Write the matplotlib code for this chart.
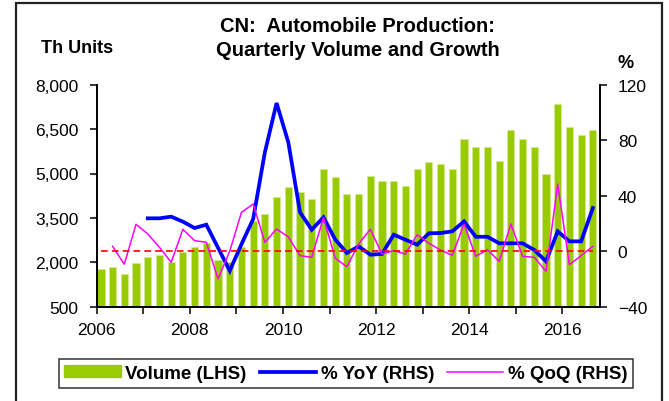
import matplotlib
matplotlib.use("Agg")
import matplotlib.pyplot as plt
from matplotlib.patches import Rectangle, Patch
from matplotlib.lines import Line2D

plt.rcParams['font.family'] = ['Liberation Sans', 'DejaVu Sans']

# === Data (2006Q1 .. 2016Q3) ===
volume = [1790, 1847, 1621, 1960, 2187, 2243, 2017, 2356, 2526, 2640, 2074,
          2017, 2526, 3398, 3624, 4190, 4530, 4360, 4134, 5153, 4870, 4304,
          4304, 4926, 4756, 4756, 4587, 5153, 5379, 5322, 5153, 6171, 5888,
          5888, 5436, 6454, 6171, 5888, 4983, 7360, 6568, 6285, 6454]
yoy = [None, None, None, None, 23.7, 23.7, 24.9, 21.3, 16.7, 19.1, 2.5,
       -14.1, 5.0, 23.2, 71.3, 106.8, 78.5, 28.0, 15.5, 24.4, 8.5, -1.3,
       3.5, -2.5, -2.0, 11.9, 8.3, 4.7, 12.9, 13.1, 14.3, 21.5, 10.4,
       10.4, 5.7, 5.7, 5.7, 0.9, -7.3, 14.3, 7.1, 7.1, 31.1]
qoq = [None, 3.5, -9.4, 19.4, 12.4, 2.8, -8.0, 15.8, 7.6, 6.4, -20.0,
       0.0, 28.0, 34.0, 6.4, 16.0, 10.3, -3.2, -4.4, 24.2, -5.0, -11.2,
       5.2, 15.8, -2.0, 0.4, -2.0, 11.9, 5.7, 0.9, -3.0, 19.6, -3.7,
       1.1, -7.3, 19.6, -3.7, -4.4, -14.5, 48.4, -9.7, -3.2, 3.5]
zero = [0] * len(volume)

years = range(2006, 2017)
year_labels = [str(y) if y % 2 == 0 else '' for y in years]
lhs_ticks = [500, 2000, 3500, 5000, 6500, 8000]
rhs_ticks = [-40, 0, 40, 80, 120]

# quarter positions on a year scale
x = [2006.09 + 0.2515 * i for i in range(len(volume))]
yoy_x = [xi for xi, v in zip(x, yoy) if v is not None]
yoy_v = [v for v in yoy if v is not None]
qoq_x = [xi for xi, v in zip(x, qoq) if v is not None]
qoq_v = [v for v in qoq if v is not None]

GREEN = '#99cc00'
BLUE = '#0000ff'
MAGENTA = '#ff00ff'

fig = plt.figure(figsize=(6.69, 4.02), dpi=100)
ax = fig.add_axes([96.7 / 669, 1 - 307.7 / 402, 503 / 669, 222 / 402])
ax2 = ax.twinx()

ax.bar(x, volume, width=0.155, bottom=0, color=GREEN, edgecolor='#d4e98f',
       linewidth=0.6)
ax.set_ylim(500, 8000)
ax.set_yticks(lhs_ticks)
ax.set_yticklabels(['{:,}'.format(v) for v in lhs_ticks])
ax.set_xlim(2006.0, 2016.8)
ax.set_xticks(list(years))
ax.set_xticklabels(year_labels)

ax2.plot(yoy_x, yoy_v, color=BLUE, lw=2.7, solid_joinstyle='miter')
ax2.plot(qoq_x, qoq_v, color=MAGENTA, lw=1.1)
ax2.plot(x, zero, color='red', lw=1.2, dashes=(4, 2.5))
ax2.set_ylim(-40, 120)
ax2.set_yticks(rhs_ticks)

for a in (ax, ax2):
    a.spines['top'].set_visible(False)
    for s in a.spines.values():
        s.set_linewidth(1.2)
    a.tick_params(direction='out', length=5, width=1.1, labelsize=12.5, pad=8)
ax.tick_params(axis='x', pad=6)

# === Texts ===
fig.text(357 / 669, 1 - 27 / 402, 'CN:  Automobile Production:', ha='center',
         va='center', fontsize=14.5, fontweight='bold')
fig.text(358 / 669, 1 - 50 / 402, 'Quarterly Volume and Growth', ha='center',
         va='center', fontsize=14.5, fontweight='bold')
fig.text(77 / 669, 1 - 49 / 402, 'Th Units', ha='center', va='center',
         fontsize=13, fontweight='bold')
fig.text(626 / 669, 1 - 63 / 402, '%', ha='center', va='center',
         fontsize=13, fontweight='bold')

handles = [Patch(facecolor=GREEN, edgecolor=GREEN),
           Line2D([], [], color=BLUE, lw=2.7),
           Line2D([], [], color=MAGENTA, lw=1.1)]
labels = ['Volume (LHS)', '% YoY (RHS)', '% QoQ (RHS)']
leg = fig.legend(handles, labels, loc='center', ncol=3,
                 bbox_to_anchor=(346 / 669, 1 - 374.5 / 402),
                 prop={'weight': 'bold', 'size': 13.5}, frameon=True,
                 fancybox=False, handlelength=3.0, handleheight=0.6,
                 handletextpad=0.25, columnspacing=0.7, borderpad=0.3)
leg.get_frame().set_edgecolor('black')
leg.get_frame().set_linewidth(1.1)

# outer frame
fig.add_artist(Rectangle((15.5 / 669, -0.05), 646 / 669, 1.05 - 4 / 402,
                         transform=fig.transFigure, fill=False,
                         edgecolor='#222222', lw=1.6))

fig.savefig('out.png', dpi=100)
